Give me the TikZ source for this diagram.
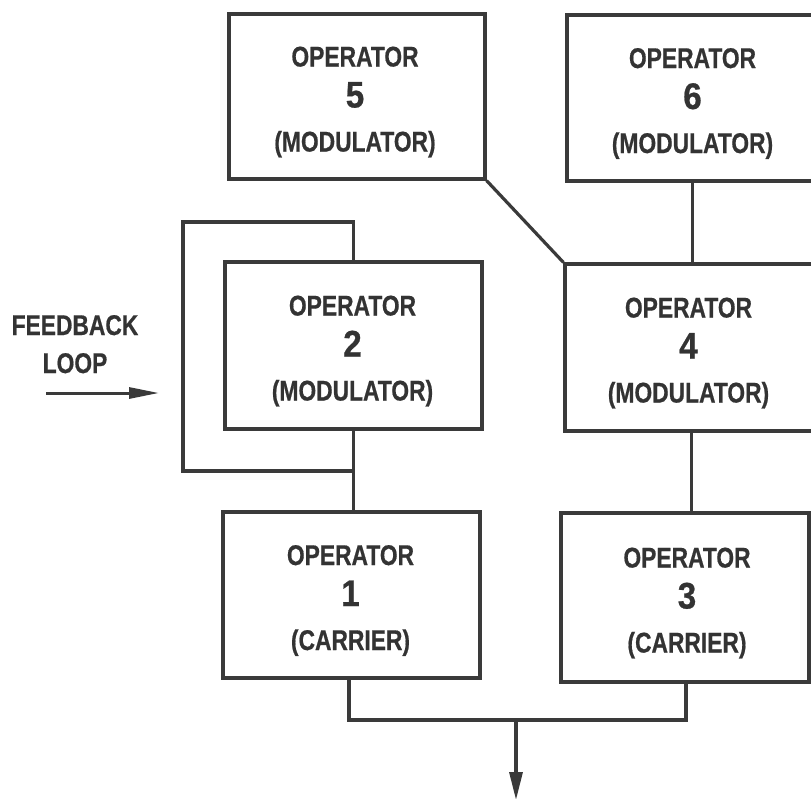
\documentclass[tikz,border=0pt]{standalone}
\usepackage{fontspec}
\setmainfont{Liberation Sans}
\newfontfamily\condfont[FakeStretch=0.8, BoldFeatures={FakeBold=0.6}]{Liberation Sans}
\newfontfamily\digfont[FakeStretch=0.9, BoldFeatures={FakeBold=0.6}]{Liberation Sans}
\usetikzlibrary{arrows.meta}
\definecolor{ink}{HTML}{3A3A3A}
\definecolor{txt}{HTML}{333333}
\newcommand\mkop[7]{%
  \node[opbox, minimum width=#3pt, minimum height=#4pt] (#1) at #2 {};
  \node[lab, xshift=#7pt, yshift=30pt] (#1a) at (#1.center) {OPERATOR};
  \node[dig, xshift=#7pt, yshift=-11pt] (#1b) at (#1.center) {#5};
  \node[lab, xshift=#7pt, yshift=-55pt] (#1c) at (#1.center) {(#6)};
}
\begin{document}
\begin{tikzpicture}[x=1pt,y=-1pt,
  wire/.style={draw=ink, line width=3.2pt, line join=miter},
  opbox/.style={draw=ink, line width=3.2pt, rectangle, inner sep=0pt},
  lab/.style={text=txt, font=\condfont\bfseries\fontsize{28.5}{30}\selectfont, inner sep=0pt, anchor=base},
  dig/.style={text=txt, font=\digfont\bfseries\fontsize{37}{40}\selectfont, inner sep=0pt, anchor=base}]
\fill[white] (0,0) rectangle (811,798);
\useasboundingbox (0,0) rectangle (811,798);

\mkop{op5}{(357,96.5)}{256}{165}{5}{MODULATOR}{-2}
\mkop{op6}{(692.5,98)}{251}{166}{6}{MODULATOR}{0}
\mkop{op2}{(353.5,345.5)}{257}{167}{2}{MODULATOR}{-1}
\mkop{op4}{(691.5,347.5)}{253}{167}{4}{MODULATOR}{-3}
\mkop{op1}{(351.5,595)}{257}{166}{1}{CARRIER}{-1}
\mkop{op3}{(685,597.5)}{248}{169}{3}{CARRIER}{2}

% connectors between operators
\draw[wire] (op5.south east) -- (op4.north west);
\draw[wire] (op6.south) -- (op6.south |- op4.north);
\draw[wire] (op4.south) -- (op4.south |- op3.north);
\draw[wire] (op2.south) -- (op2.south |- op1.north);

% feedback loop
\coordinate (fbl) at (183,471);
\coordinate (fbt) at (183,222);
\draw[wire] (op2.south) -- (op2.south |- fbl) -- (fbl) -- (fbt) -- (op2.north |- fbt) -- (op2.north);

% output
\coordinate (outl) at (349,720);
\coordinate (outr) at (686,720);
\coordinate (outm) at (516,720);
\coordinate (outend) at (516,800);
\draw[wire] (outl |- op1.south) -- (outl) -- (outr) -- (outr |- op3.south);
\draw[wire, -{Triangle[length=28pt,width=13pt]}] (outm) -- (outend);

% feedback label and arrow
\node[lab] (fbtext) at (75,335) {FEEDBACK};
\node[lab] (looptext) at (75,373) {LOOP};
\coordinate (fa) at (46,393);
\coordinate (fb) at (159,393);
\draw[wire, line width=3pt, -{Triangle[length=30pt,width=11pt]}] (fa) -- (fb);
\end{tikzpicture}
\end{document}
